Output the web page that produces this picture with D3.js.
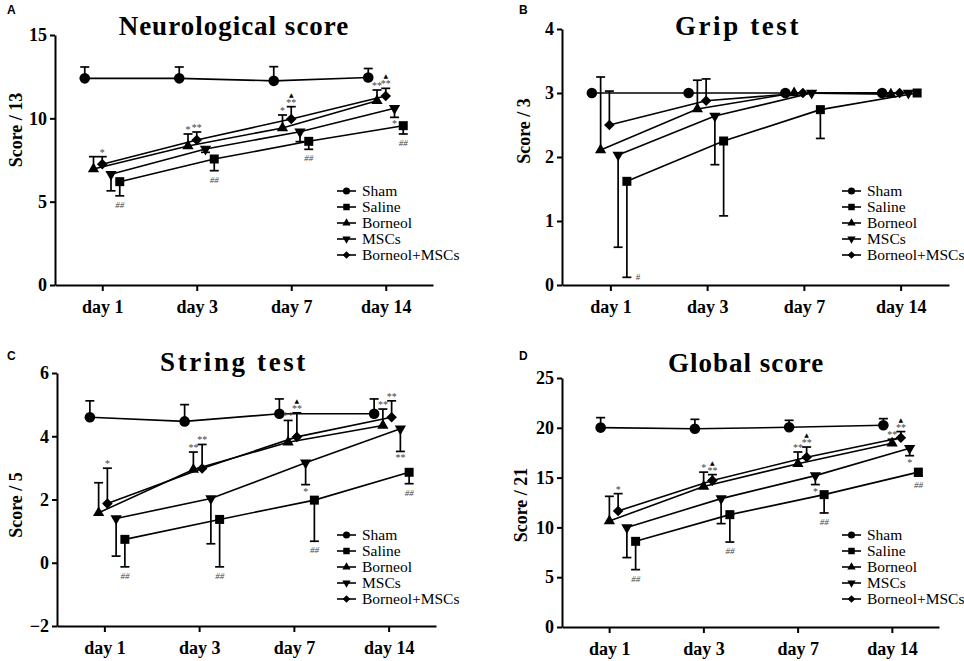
<!DOCTYPE html>
<html>
<head>
<meta charset="utf-8">
<script src="https://cdn.jsdelivr.net/npm/d3@7"></script>
<style>
body { margin: 0; background: #fff; }
svg text { font-family: "Liberation Serif", "Times New Roman", serif; }
</style>
</head>
<body>
<svg id="fig" width="964" height="661"></svg>
<script>
const days = ["day 1", "day 3", "day 7", "day 14"];
const groups = ["Sham", "Saline", "Borneol", "MSCs", "Borneol+MSCs"];
// left-to-right order of the groups around each day tick
const dodgeOrder = ["Sham", "Borneol", "Borneol+MSCs", "MSCs", "Saline"];

// rows follow `groups`; err is signed: + drawn upward, - drawn downward
const neuroMean = [
  [12.4, 12.4, 12.25, 12.45],
  [6.2, 7.56, 8.62, 9.56],
  [6.96, 8.34, 9.42, 11.06],
  [6.65, 8.16, 9.2, 10.6],
  [7.25, 8.7, 9.96, 11.34]
];
const neuroErr = [
  [0.68, 0.68, 0.85, 0.54],
  [-0.85, -0.7, -0.48, -0.5],
  [0.74, 0.72, 0.78, 0.64],
  [-1.0, -0.2, -0.6, -0.54],
  [0.45, 0.48, 0.74, 0.46]
];
const neuroTicks = [0, 5, 10, 15];

const gripMean = [
  [3, 3, 3, 3],
  [1.62, 2.25, 2.74, 3],
  [2.11, 2.75, 3, 2.98],
  [2.03, 2.64, 3, 3],
  [2.5, 2.88, 3, 3]
];
const gripErr = [
  [0, 0, 0, 0],
  [-1.5, -1.17, -0.45, 0],
  [1.14, 0.45, 0, 0],
  [-1.44, -0.76, 0, 0],
  [0.53, 0.34, 0, 0]
];
const gripTicks = [0, 1, 2, 3, 4];

const stringMean = [
  [4.6, 4.47, 4.71, 4.71],
  [0.74, 1.37, 1.98, 2.86],
  [1.58, 2.95, 3.81, 4.34],
  [1.4, 2.03, 3.16, 4.24],
  [1.87, 2.98, 3.98, 4.6]
];
const stringErr = [
  [0.52, 0.53, 0.47, 0.47],
  [-0.87, -1.5, -1.3, -0.36],
  [0.95, 0.55, 0.69, 0.52],
  [-1.19, -1.43, -0.69, -0.72],
  [1.12, 0.76, 0.76, 0.52]
];
const stringTicks = [-2, 0, 2, 4, 6];

const globalMean = [
  [20.02, 19.9, 20.05, 20.25],
  [8.6, 11.28, 13.29, 15.55],
  [10.64, 14.1, 16.4, 18.45],
  [10.0, 12.89, 15.2, 17.95],
  [11.65, 14.7, 17.05, 19.0]
];
const globalErr = [
  [1.0, 0.95, 0.7, 0.67],
  [-2.84, -2.75, -1.84, -0.4],
  [2.48, 1.45, 1.17, 0.4],
  [-3.03, -2.51, -0.9, -0.75],
  [1.74, 0.6, 1.02, 0.62]
];
const globalTicks = [0, 5, 10, 15, 20, 25];

// significance marks: [group, day index, lines top-to-bottom, placement]
const neuroMarks = [
  ["Borneol+MSCs", 0, ["*"]], ["Saline", 0, ["##"]],
  ["Borneol", 1, ["*"]], ["Borneol+MSCs", 1, ["**"]], ["Saline", 1, ["##"]],
  ["Borneol", 2, ["*"]], ["Borneol+MSCs", 2, ["▲", "**"]], ["Saline", 2, ["##"]],
  ["Borneol", 3, ["**"]], ["Borneol+MSCs", 3, ["▲", "**"]], ["MSCs", 3, ["*"]], ["Saline", 3, ["##"]]
];
const gripMarks = [
  ["Saline", 0, ["#"], "side"]
];
const stringMarks = [
  ["Borneol+MSCs", 0, ["*"]], ["Saline", 0, ["##"]],
  ["Borneol", 1, ["**"]], ["Borneol+MSCs", 1, ["**"]], ["Saline", 1, ["##"]],
  ["Borneol", 2, ["**"]], ["Borneol+MSCs", 2, ["▲", "**"]], ["MSCs", 2, ["*"]], ["Saline", 2, ["##"]],
  ["Borneol", 3, ["**"]], ["Borneol+MSCs", 3, ["**"]], ["MSCs", 3, ["**"]], ["Saline", 3, ["##"]]
];
const globalMarks = [
  ["Borneol+MSCs", 0, ["*"]], ["Saline", 0, ["##"]],
  ["Borneol", 1, ["*"]], ["Borneol+MSCs", 1, ["▲", "**"]], ["Saline", 1, ["##"]],
  ["Borneol", 2, ["**"]], ["Borneol+MSCs", 2, ["▲", "**"]], ["MSCs", 2, ["*"]], ["Saline", 2, ["##"]],
  ["Borneol", 3, ["**"]], ["Borneol+MSCs", 3, ["▲", "**"]], ["MSCs", 3, ["*"]], ["Saline", 3, ["##"]]
];

const panels = [
  { tag: "A", title: "Neurological score", ylab: "Score / 13", mean: neuroMean, err: neuroErr, marks: neuroMarks,
    yDomain: [0, 15], ticks: neuroTicks, x0: 55, x1: 433, yTop: 35, yBot: 285, shift: 0,
    titleX: 234, titleY: 35, spacing: 1, tagX: 7, tagY: 14, ylabX: 22, ylabY: 130, legX: 337, legY: 191 },
  { tag: "B", title: "Grip test", ylab: "Score / 3", mean: gripMean, err: gripErr, marks: gripMarks,
    yDomain: [0, 4], ticks: gripTicks, x0: 562, x1: 949, yTop: 29, yBot: 285, shift: -1,
    titleX: 738, titleY: 35, spacing: 2.6, tagX: 519, tagY: 14, ylabX: 530, ylabY: 131, legX: 842, legY: 191 },
  { tag: "C", title: "String test", ylab: "Score / 5", mean: stringMean, err: stringErr, marks: stringMarks,
    yDomain: [-2, 6], ticks: stringTicks, x0: 57, x1: 436, yTop: 373, yBot: 626, shift: 3,
    titleX: 234, titleY: 371, spacing: 2.6, tagX: 7, tagY: 360, ylabX: 22, ylabY: 505, legX: 337, legY: 535 },
  { tag: "D", title: "Global score", ylab: "Score / 21", mean: globalMean, err: globalErr, marks: globalMarks,
    yDomain: [0, 25], ticks: globalTicks, x0: 562, x1: 939, yTop: 378, yBot: 627, shift: 9,
    titleX: 746, titleY: 372, spacing: 1, tagX: 519, tagY: 360, ylabX: 527, ylabY: 505, legX: 842, legY: 535 }
];

const shapes = {
  "Sham": { type: d3.symbolCircle, size: 88, legSize: 40, rot: 0 },
  "Saline": { type: d3.symbolSquare, size: 81, legSize: 42, rot: 0 },
  "Borneol": { type: d3.symbolTriangle, size: 55, legSize: 30, rot: 0 },
  "MSCs": { type: d3.symbolTriangle, size: 55, legSize: 30, rot: 180 },
  "Borneol+MSCs": { type: d3.symbolSquare, size: 56, legSize: 30, rot: 45 }
};

const serif = "'Liberation Serif', 'Times New Roman', serif";
const svg = d3.select("#fig");

panels.forEach(p => {
  const g = svg.append("g");
  const x = d3.scalePoint().domain(days).range([p.x0, p.x1]).padding(0.5);
  const dodge = d3.scalePoint().domain(dodgeOrder).range([-17.5, 17.5]);
  const y = d3.scaleLinear().domain(p.yDomain).range([p.yBot, p.yTop]);
  const px = (grp, i) => x(days[i]) + dodge(grp) + p.shift;

  // axes
  const yAxis = g.append("g").attr("transform", `translate(${p.x0},0)`)
    .call(d3.axisLeft(y).tickValues(p.ticks).tickFormat(d3.format("d"))
      .tickSize(5).tickSizeOuter(0).tickPadding(3));
  const xAxis = g.append("g").attr("transform", `translate(0,${p.yBot})`)
    .call(d3.axisBottom(x).tickSize(6).tickSizeOuter(0).tickPadding(9));
  [yAxis, xAxis].forEach(a => {
    a.attr("font-family", serif);
    a.select(".domain").attr("stroke", "#000").attr("stroke-width", 2);
    a.selectAll(".tick line").attr("stroke", "#000").attr("stroke-width", 2);
    a.selectAll(".tick text").attr("fill", "#000")
      .style("font-family", serif)
      .style("font-weight", "bold").style("font-size", "18px");
  });

  // connecting lines
  const line = d3.line().x(d => d.x).y(d => y(d.v));
  groups.forEach((grp, gi) => {
    const pts = p.mean[gi].map((v, i) => ({ x: px(grp, i), v }));
    g.append("path").datum(pts).attr("d", line)
      .attr("fill", "none").attr("stroke", "#000").attr("stroke-width", 1.6);
  });

  // error bars
  groups.forEach((grp, gi) => {
    p.mean[gi].forEach((v, i) => {
      const e = p.err[gi][i];
      if (!e) return;
      const cx = px(grp, i), y0 = y(v), y1 = y(v + e);
      g.append("line").attr("x1", cx).attr("x2", cx).attr("y1", y0).attr("y2", y1)
        .attr("stroke", "#000").attr("stroke-width", 1.7);
      g.append("line").attr("x1", cx - 4.5).attr("x2", cx + 4.5).attr("y1", y1).attr("y2", y1)
        .attr("stroke", "#000").attr("stroke-width", 1.7);
    });
  });

  // markers
  groups.forEach((grp, gi) => {
    const s = shapes[grp];
    p.mean[gi].forEach((v, i) => {
      g.append("path").attr("d", d3.symbol(s.type, s.size)())
        .attr("transform", `translate(${px(grp, i)},${y(v)}) rotate(${s.rot})`)
        .attr("fill", "#000");
    });
  });

  // significance marks
  p.marks.forEach(([grp, i, lines, place]) => {
    const gi = groups.indexOf(grp);
    const cx = px(grp, i);
    const e = p.err[gi][i];
    const yEnd = y(p.mean[gi][i] + e);
    if (place === "side") {
      g.append("text").attr("x", cx + 11).attr("y", yEnd + 3).attr("text-anchor", "middle")
        .attr("font-family", serif).attr("fill", "#444").style("font-size", "9px").text(lines[0]);
      return;
    }
    if (e >= 0) {
      lines.slice().reverse().forEach((t, k) => drawMark(g, t, cx, yEnd - 1 - k * 10));
    } else {
      lines.forEach((t, k) => drawMark(g, t, cx, yEnd + (t.startsWith("#") ? 12 : 10) + k * 10));
    }
  });

  // titles and labels
  g.append("text").attr("x", p.titleX).attr("y", p.titleY).attr("text-anchor", "middle")
    .attr("font-family", serif)
    .style("font-size", "27px").style("font-weight", "bold").style("letter-spacing", p.spacing + "px")
    .text(p.title);
  g.append("text").attr("x", p.tagX).attr("y", p.tagY)
    .style("font-family", "'Liberation Sans', Arial, sans-serif").style("font-size", "12px")
    .style("font-weight", "bold").text(p.tag);
  g.append("text").attr("transform", `translate(${p.ylabX},${p.ylabY}) rotate(-90)`)
    .attr("text-anchor", "middle").attr("font-family", serif)
    .style("font-size", "18px").style("font-weight", "bold")
    .text(p.ylab);

  // legend
  groups.forEach((grp, gi) => {
    const ly = p.legY + gi * 16;
    const s = shapes[grp];
    g.append("line").attr("x1", p.legX).attr("x2", p.legX + 19).attr("y1", ly).attr("y2", ly)
      .attr("stroke", "#000").attr("stroke-width", 1.6);
    g.append("path").attr("d", d3.symbol(s.type, s.legSize)())
      .attr("transform", `translate(${p.legX + 9.5},${ly}) rotate(${s.rot})`).attr("fill", "#000");
    g.append("text").attr("x", p.legX + 25).attr("y", ly + 5)
      .style("font-family", serif).style("font-size", "15.5px").text(grp);
  });
});

function drawMark(g, t, cx, baseline) {
  if (t === "▲") {
    g.append("text").attr("x", cx).attr("y", baseline + 1).attr("text-anchor", "middle")
      .style("font-family", "'DejaVu Sans', sans-serif").style("font-size", "6px")
      .attr("fill", "#000").text(t);
  } else {
    g.append("text").attr("x", cx).attr("y", baseline).attr("text-anchor", "middle")
      .attr("fill", "#444").style("font-family", serif)
      .style("font-size", t.startsWith("#") ? "9px" : "10px")
      .style("font-style", t.startsWith("#") ? "italic" : "normal").text(t);
  }
}
</script>
</body>
</html>
